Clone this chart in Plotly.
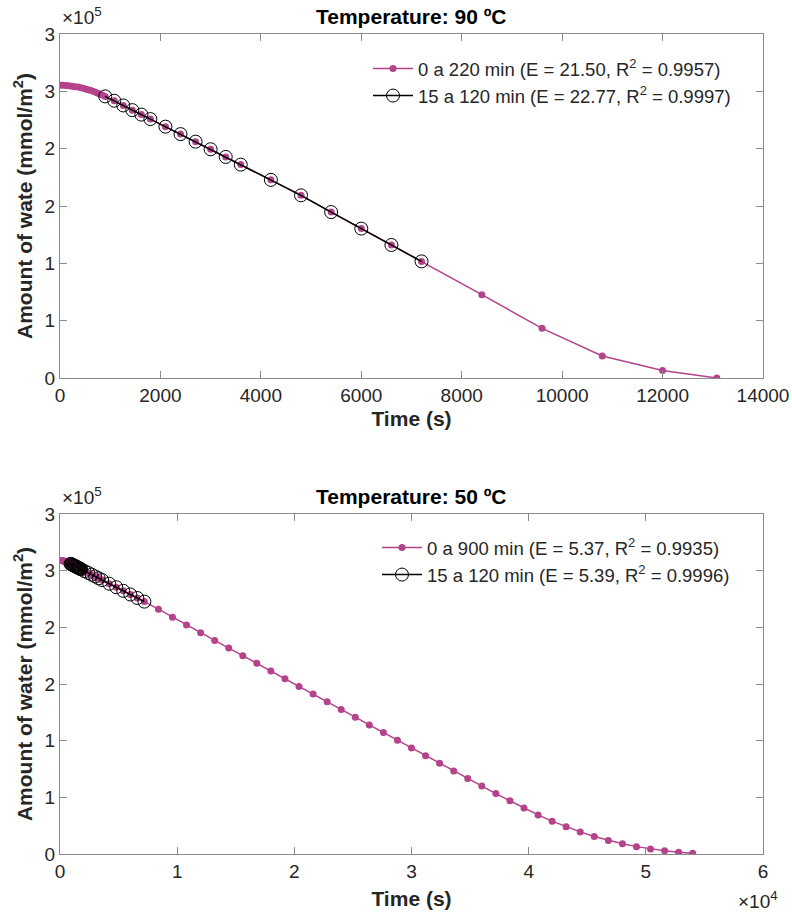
import plotly.graph_objects as go

# ---------------- data (amount in units of 1e5 mmol/m^2, time in minutes) -------------
top_full_min = [0, 1, 2, 3, 4, 5, 6, 7, 8, 9, 10, 11, 12, 13, 14, 15,
                18, 21, 24, 27, 30, 35, 40, 45, 50, 55, 60,
                70, 80, 90, 100, 110, 120, 140, 160, 180, 200, 218]
top_full_val = [2.552, 2.552, 2.550, 2.548, 2.545, 2.541, 2.537, 2.531, 2.524, 2.517,
                2.509, 2.500, 2.490, 2.479, 2.468, 2.456,
                2.418, 2.377, 2.336, 2.297, 2.258, 2.192, 2.127, 2.061, 1.995, 1.928, 1.861,
                1.728, 1.593, 1.447, 1.303, 1.160, 1.017, 0.727, 0.433, 0.192, 0.065, 0.0]
top_fit_min = [15, 18, 21, 24, 27, 30, 35, 40, 45, 50, 55, 60,
               70, 80, 90, 100, 110, 120]
top_fit_val = [2.456, 2.418, 2.377, 2.336, 2.297, 2.258, 2.192, 2.127, 2.061, 1.995, 1.928, 1.861,
               1.728, 1.593, 1.447, 1.303, 1.160, 1.017]

bot_full_min = ([0, 1, 2, 3, 4, 5, 6, 7, 8, 9, 10, 11, 12, 13, 14, 15,
                 16, 17, 18, 19, 20, 21, 22, 23, 24, 25, 26, 27, 28, 29, 30,
                 35, 40, 45, 50, 55, 60, 70, 80, 90, 100, 110, 120]
                + [140, 160, 180, 200, 220, 240, 260, 280, 300, 320, 340, 360, 380, 400,
                   420, 440, 460, 480, 500, 520, 540, 560, 580, 600, 620, 640, 660, 680,
                   700, 720, 740, 760, 780, 800, 820, 840, 860, 880, 900])
bot_full_val = ([2.590, 2.590, 2.589, 2.588, 2.587, 2.586, 2.584, 2.582, 2.580, 2.578,
                 2.575, 2.572, 2.569, 2.566, 2.563, 2.560,
                 2.557, 2.554, 2.550, 2.547, 2.544, 2.541, 2.538, 2.535, 2.531, 2.528,
                 2.525, 2.522, 2.519, 2.516, 2.512,
                 2.496, 2.481, 2.465, 2.449, 2.433, 2.417, 2.385, 2.354, 2.322, 2.290, 2.259, 2.227]
                + [2.160, 2.090, 2.020, 1.953, 1.884, 1.817, 1.750, 1.683, 1.615, 1.547,
                   1.479, 1.411, 1.343, 1.275, 1.207, 1.139, 1.071, 1.003, 0.935, 0.867,
                   0.800, 0.733, 0.666, 0.600, 0.533, 0.470, 0.405, 0.345, 0.290, 0.240,
                   0.195, 0.155, 0.120, 0.090, 0.065, 0.045, 0.028, 0.015, 0.006])
bot_fit_min = [15, 16, 17, 18, 19, 20, 21, 22, 23, 24, 25, 26, 27, 28, 29, 30,
               35, 40, 45, 50, 55, 60, 70, 80, 90, 100, 110, 120]
bot_fit_val = [2.560, 2.557, 2.554, 2.550, 2.547, 2.544, 2.541, 2.538, 2.535, 2.531,
               2.528, 2.525, 2.522, 2.519, 2.516, 2.512,
               2.496, 2.481, 2.465, 2.449, 2.433, 2.417, 2.385, 2.354, 2.322, 2.290, 2.259, 2.227]

top_labels = ["0 a 220 min (E = 21.50, R<sup>2</sup> = 0.9957)",
              "15 a 120 min (E = 22.77, R<sup>2</sup> = 0.9997)"]
bot_labels = ["0 a 900 min (E = 5.37, R<sup>2</sup> = 0.9935)",
              "15 a 120 min (E = 5.39, R<sup>2</sup> = 0.9996)"]

y_tickvals = [0, 0.5, 1, 1.5, 2, 2.5, 3]
y_ticktext = ["0", "1", "1", "2", "2", "3", "3"]
top_x_ticks = [0, 2000, 4000, 6000, 8000, 10000, 12000, 14000]
top_x_text = ["0", "2000", "4000", "6000", "8000", "10000", "12000", "14000"]
bot_x_ticks = [0, 10000, 20000, 30000, 40000, 50000, 60000]
bot_x_text = ["0", "1", "2", "3", "4", "5", "6"]

# ---------------- figure ----------------
W, H = 792, 912
MAG = "#B4438C"
FONT = "Liberation Sans"
AX = "#8a8a8a"
TXT = "#262626"

def sec(mins):
    return [m * 60 for m in mins]

fig = go.Figure()

fig.add_trace(go.Scatter(x=sec(top_full_min), y=top_full_val, mode="lines+markers",
                         line=dict(color=MAG, width=1.5), marker=dict(color=MAG, size=7),
                         name=top_labels[0], xaxis="x", yaxis="y", legend="legend"))
fig.add_trace(go.Scatter(x=sec(top_fit_min), y=top_fit_val, mode="lines+markers",
                         line=dict(color="black", width=1.5),
                         marker=dict(symbol="circle-open", color="black", size=13, line=dict(width=1)),
                         name=top_labels[1], xaxis="x", yaxis="y", legend="legend"))
fig.add_trace(go.Scatter(x=sec(bot_full_min), y=bot_full_val, mode="lines+markers",
                         line=dict(color=MAG, width=1.5), marker=dict(color=MAG, size=7),
                         name=bot_labels[0], xaxis="x2", yaxis="y2", legend="legend2"))
fig.add_trace(go.Scatter(x=sec(bot_fit_min), y=bot_fit_val, mode="lines+markers",
                         line=dict(color="black", width=1.5),
                         marker=dict(symbol="circle-open", color="black", size=13, line=dict(width=1)),
                         name=bot_labels[1], xaxis="x2", yaxis="y2", legend="legend2"))

x0, x1 = 60 / W, 763 / W
top_dom = [1 - 378 / H, 1 - 34 / H]
bot_dom = [1 - 854 / H, 1 - 514 / H]

axis_common = dict(showline=True, linecolor=AX, linewidth=1, mirror="ticks",
                   ticks="inside", ticklen=7, tickcolor=AX, showgrid=False, zeroline=False,
                   automargin=False,
                   tickfont=dict(family=FONT, size=19, color=TXT))
title_font = dict(size=21, family=FONT, color=TXT)

fig.update_layout(
    width=W, height=H, margin=dict(l=0, r=0, t=0, b=0),
    plot_bgcolor="white", paper_bgcolor="white",
    font=dict(family=FONT, color=TXT),
    xaxis=dict(domain=[x0, x1], range=[0, 14000], tickvals=top_x_ticks, ticktext=top_x_text, anchor="y",
               title=dict(text="<b>Time (s)</b>", font=title_font, standoff=6),
               **axis_common),
    yaxis=dict(domain=top_dom, range=[0, 3], tickvals=y_tickvals, ticktext=y_ticktext, anchor="x",
               title=dict(text="<b>Amount of wate (mmol/m<sup>2</sup>)</b>", font=title_font, standoff=6),
               **axis_common),
    xaxis2=dict(domain=[x0, x1], range=[0, 60000], tickvals=bot_x_ticks, ticktext=bot_x_text, anchor="y2",
                title=dict(text="<b>Time (s)</b>", font=title_font, standoff=10),
                **axis_common),
    yaxis2=dict(domain=bot_dom, range=[0, 3], tickvals=y_tickvals, ticktext=y_ticktext, anchor="x2",
                title=dict(text="<b>Amount of water (mmol/m<sup>2</sup>)</b>", font=title_font, standoff=6),
                **axis_common),
    legend=dict(x=368 / W, y=1 - 50 / H, xref="paper", yref="paper", xanchor="left", yanchor="top",
                bgcolor="rgba(255,255,255,0)", font=dict(family=FONT, size=18.5, color=TXT),
                tracegroupgap=0, itemwidth=40),
    legend2=dict(x=377 / W, y=1 - 529 / H, xref="paper", yref="paper", xanchor="left", yanchor="top",
                 bgcolor="rgba(255,255,255,0)", font=dict(family=FONT, size=18.5, color=TXT),
                 tracegroupgap=0, itemwidth=40),
    showlegend=True,
)

annotations = [
    dict(text="<b>Temperature: 90 ºC</b>", x=(x0 + x1) / 2, y=1 - 17 / H, xref="paper", yref="paper",
         showarrow=False, font=dict(size=21, family=FONT, color="black"), xanchor="center", yanchor="middle"),
    dict(text="<b>Temperature: 50 ºC</b>", x=(x0 + x1) / 2, y=1 - 497 / H, xref="paper", yref="paper",
         showarrow=False, font=dict(size=21, family=FONT, color="black"), xanchor="center", yanchor="middle"),
    dict(text="×10<sup>5</sup>", x=x0, y=1 - 16 / H, xref="paper", yref="paper", showarrow=False,
         font=dict(size=19, family=FONT, color=TXT), xanchor="left", yanchor="middle"),
    dict(text="×10<sup>5</sup>", x=x0, y=1 - 496 / H, xref="paper", yref="paper", showarrow=False,
         font=dict(size=19, family=FONT, color=TXT), xanchor="left", yanchor="middle"),
    dict(text="×10<sup>4</sup>", x=780 / W, y=1 - 900 / H, xref="paper", yref="paper", showarrow=False,
         font=dict(size=19, family=FONT, color=TXT), xanchor="right", yanchor="middle"),
]
fig.update_layout(annotations=annotations)

fig.write_html("out.html", config={"displayModeBar": False},
               post_script="document.body.style.margin='0';document.body.style.overflow='hidden';")
